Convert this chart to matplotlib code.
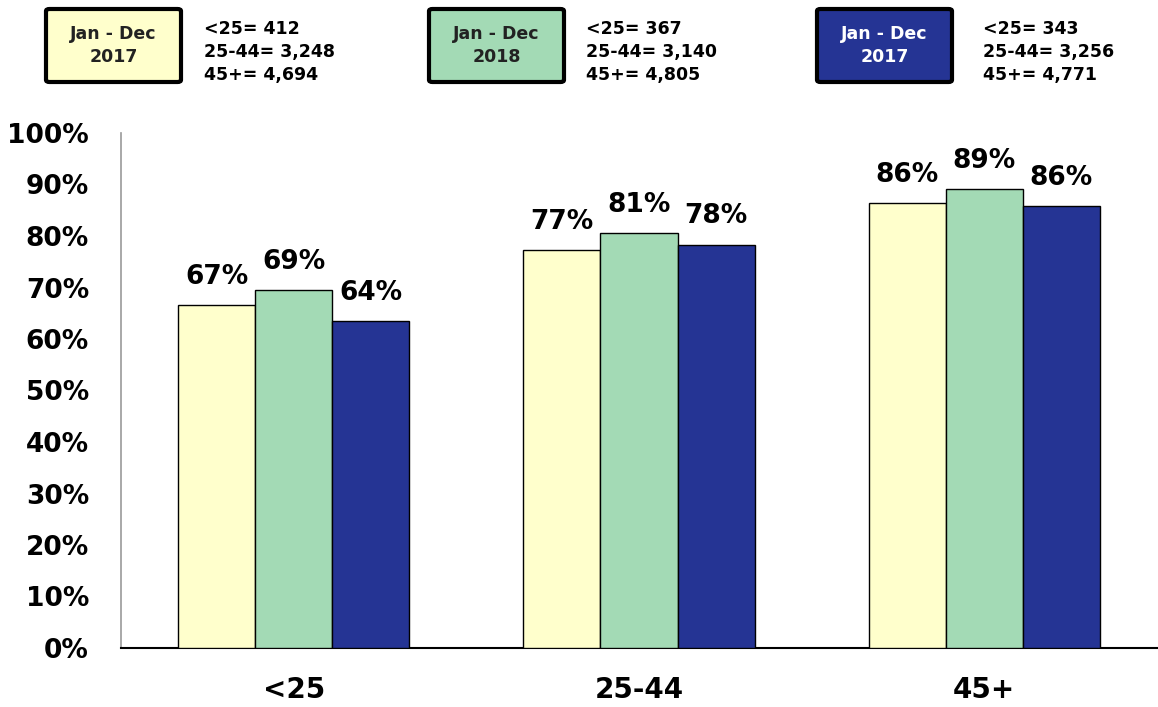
import matplotlib
matplotlib.use("Agg")
import matplotlib.pyplot as plt
from matplotlib.patches import FancyBboxPatch
import numpy as np

categories = ["<25", "25-44", "45+"]
series_names = ["Jan - Dec\n2017", "Jan - Dec\n2018", "Jan - Dec\n2017"]
values_a = [66.6, 77.3, 86.4]
values_b = [69.5, 80.6, 89.1]
values_c = [63.5, 78.3, 85.8]
labels_a = ["67%", "77%", "86%"]
labels_b = ["69%", "81%", "89%"]
labels_c = ["64%", "78%", "86%"]
counts_a = "<25= 412\n25-44= 3,248\n45+= 4,694"
counts_b = "<25= 367\n25-44= 3,140\n45+= 4,805"
counts_c = "<25= 343\n25-44= 3,256\n45+= 4,771"
yticks = [0, 10, 20, 30, 40, 50, 60, 70, 80, 90, 100]

colors = ["#FFFFCC", "#A3DAB5", "#253494"]
text_colors = ["#222222", "#222222", "#FFFFFF"]

plt.rcParams['font.family'] = ['DejaVu Sans']
fig = plt.figure(figsize=(11.58, 7.07), dpi=100)
ax = fig.add_axes([121/1158, 1-648/707, 1036/1158, 515/707])

x = np.arange(len(categories))
w = 0.223
series = [(values_a, labels_a), (values_b, labels_b), (values_c, labels_c)]
for i, (vals, labs) in enumerate(series):
    pos = x + (i - 1) * w
    bars = ax.bar(pos, vals, width=w, color=colors[i], edgecolor="black", linewidth=1.0, zorder=3)
    for b, lab in zip(bars, labs):
        ax.annotate(lab, (b.get_x() + b.get_width()/2, b.get_height()), xytext=(0, 11),
                    textcoords="offset points", ha="center", va="bottom",
                    fontsize=19, fontweight="bold", color="black")

ax.set_xlim(-0.5, 2.5)
ax.set_ylim(0, 100)
ax.set_yticks(yticks)
ax.set_yticklabels([f"{t}%" for t in yticks], fontsize=19, fontweight="bold")
ax.set_xticks(x)
ax.set_xticklabels(categories, fontsize=20, fontweight="bold")
ax.tick_params(axis="y", length=0, pad=23)
ax.tick_params(axis="x", length=0, pad=20)
for s in ["top", "right"]:
    ax.spines[s].set_visible(False)
ax.spines["left"].set_color("#999999")
ax.spines["left"].set_linewidth(1.2)
ax.spines["bottom"].set_color("black")
ax.spines["bottom"].set_linewidth(1.5)

# legend boxes
box_x = [46, 429, 817]
txt_x = [204, 586, 983]
counts = [counts_a, counts_b, counts_c]
for i in range(3):
    x0 = box_x[i] / 1158
    y0 = 1 - 82/707
    bw = 135 / 1158
    bh = 73 / 707
    p = FancyBboxPatch((x0, y0), bw, bh, boxstyle="round,pad=0,rounding_size=0.003",
                       transform=fig.transFigure, facecolor=colors[i], edgecolor="black",
                       linewidth=3)
    fig.patches.append(p)
    fig.text(x0 + bw/2, y0 + bh/2, series_names[i], ha="center", va="center",
             fontsize=12.5, fontweight="bold", color=text_colors[i], linespacing=1.3)
    fig.text(txt_x[i]/1158, 1 - 52/707, counts[i], ha="left", va="center",
             fontsize=12.5, fontweight="bold", color="black", linespacing=1.35)

fig.savefig("out.png", dpi=100)
